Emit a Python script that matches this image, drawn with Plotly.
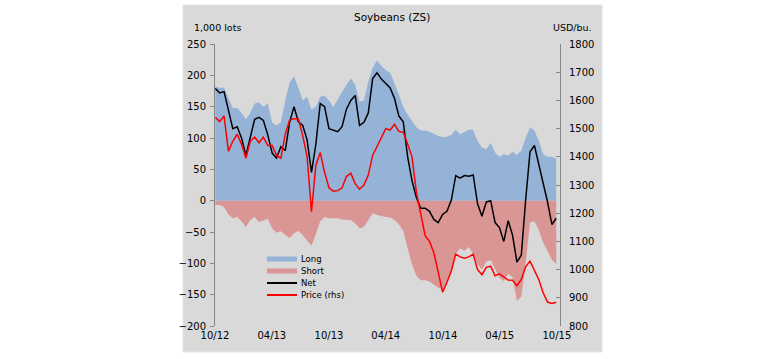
import pandas as pd
import plotly.graph_objects as go

# ---------------- data (bi-weekly, 1,000 lots / USD cents per bu.) ----------------
start_date = "2012-10-02"
n_points = 79
step_days = 14

long_pos = [182, 180, 180, 165, 148, 148, 140, 130, 140, 155, 157, 150, 155, 125, 120, 125,
            160, 188, 198, 180, 160, 166, 145, 150, 166, 168, 160, 150, 162, 172, 185, 195,
            185, 158, 160, 190, 212, 224, 215, 208, 204, 187, 168, 150, 137, 126, 117, 112,
            112, 110, 106, 103, 101, 102, 105, 113, 106, 110, 113, 113, 95, 85, 82, 92,
            77, 70, 74, 72, 78, 73, 80, 100, 117, 112, 96, 74, 70, 70, 67]

short_pos = [-7, -7, -10, -22, -28, -26, -33, -42, -31, -26, -34, -31, -29, -44, -51, -49,
             -55, -60, -52, -48, -55, -64, -72, -53, -33, -26, -28, -28, -28, -30, -31, -31,
             -36, -44, -42, -30, -20, -23, -25, -26, -27, -31, -38, -48, -76, -102, -120, -127,
             -127, -129, -134, -139, -142, -126, -113, -85, -76, -80, -74, -85, -101, -110, -97, -95,
             -110, -123, -128, -117, -122, -160, -153, -100, -35, -33, -47, -67, -80, -94, -101]

net_pos = [179, 172, 174, 145, 115, 118, 100, 72, 100, 130, 133, 128, 105, 76, 68, 86,
           80, 125, 150, 126, 120, 97, 45, 90, 155, 150, 115, 113, 110, 118, 146, 160,
           168, 120, 125, 140, 195, 204, 194, 187, 180, 163, 135, 126, 70, 32, 5, -12,
           -12, -17, -30, -35, -22, -17, 1, 40, 36, 40, 39, 41, -5, -25, -2, 0,
           -35, -43, -65, -32, -55, -98, -87, 1, 78, 88, 58, 30, -2, -38, -28]

price = [1540, 1525, 1545, 1420, 1455, 1480, 1445, 1395, 1455, 1470, 1450, 1470, 1440, 1440, 1405, 1395,
         1480, 1530, 1535, 1535, 1475, 1400, 1205, 1370, 1415, 1345, 1290, 1278, 1280, 1290, 1330, 1342,
         1305, 1285, 1300, 1335, 1405, 1435, 1470, 1500, 1495, 1515, 1490, 1487, 1445, 1400, 1275, 1200,
         1120, 1100, 1060, 990, 920, 955, 995, 1055, 1045, 1040, 1045, 1055, 1000, 982, 1008, 1012,
         978, 985, 975, 963, 962, 943, 965, 1010, 1030, 1000, 965, 918, 885, 880, 884]

x_tick_vals = ["2012-10-01", "2013-04-01", "2013-10-01", "2014-04-01",
               "2014-10-01", "2015-04-01", "2015-10-01"]
x_tick_text = ["10/12", "04/13", "10/13", "04/14", "10/14", "04/15", "10/15"]
x_range = ["2012-10-01", "2015-10-11"]

y_left_range = [-200, 250]
y_right_range = [800, 1800]

dates = pd.date_range(start=start_date, periods=n_points, freq=f"{step_days}D")

# ---------------- styling ----------------
W, H = 783, 359
PL, PR, PT, PB = 215, 560, 44, 326   # plot area in pixels
FONT = "DejaVu Sans"
BLUE = "#95B3D7"
PINK = "#D99694"
GREY_BG = "#D9D9D9"
AXIS = "#868686"


def px_x(px):
    return (px - PL) / (PR - PL)


def px_y(py):
    return (PB - py) / (PB - PT)


fig = go.Figure()

fig.add_trace(go.Scatter(x=dates, y=long_pos, name="Long", mode="lines",
                         line=dict(width=0, color=BLUE), fill="tozeroy",
                         fillcolor=BLUE, showlegend=False))
fig.add_trace(go.Scatter(x=dates, y=short_pos, name="Short", mode="lines",
                         line=dict(width=0, color=PINK), fill="tozeroy",
                         fillcolor=PINK, showlegend=False))
fig.add_trace(go.Scatter(x=dates, y=net_pos, name="Net", mode="lines",
                         line=dict(width=1.5, color="#000000"), showlegend=False))
fig.add_trace(go.Scatter(x=dates, y=price, name="Price (rhs)", mode="lines",
                         line=dict(width=1.5, color="#FF0000"), yaxis="y2",
                         showlegend=False))

tick_font = dict(family=FONT, size=10, color="#000000")
zero_pos = (0 - y_left_range[0]) / (y_left_range[1] - y_left_range[0])

fig.update_layout(
    width=W, height=H,
    margin=dict(l=PL, r=W - PR, t=PT, b=H - PB, pad=0, autoexpand=False),
    paper_bgcolor="white",
    plot_bgcolor="rgba(0,0,0,0)",
    showlegend=False,
    font=dict(family=FONT, size=10, color="#000000"),
    xaxis=dict(type="date", range=x_range, tickvals=x_tick_vals, ticktext=x_tick_text,
               showgrid=False, zeroline=False, showline=False, ticks="",
               tickfont=tick_font, ticklabelstandoff=2, automargin=False),
    xaxis2=dict(type="date", range=x_range, overlaying="x", anchor="free",
                position=zero_pos,
                tickvals=x_tick_vals, showticklabels=False, ticks="inside", ticklen=3,
                tickcolor=AXIS, showgrid=False, zeroline=False, showline=True,
                linecolor=AXIS, linewidth=1, automargin=False),
    yaxis=dict(range=y_left_range, dtick=50, showgrid=False, zeroline=False,
               showline=True, linecolor=AXIS, linewidth=1, ticks="outside",
               ticklen=4, tickcolor=AXIS, tickfont=tick_font, ticklabelstandoff=2,
               automargin=False),
    yaxis2=dict(range=y_right_range, dtick=100, overlaying="y", side="right",
                showgrid=False, zeroline=False, showline=True, linecolor=AXIS,
                linewidth=1, ticks="inside", ticklen=4, tickcolor=AXIS,
                tickfont=tick_font, ticklabelstandoff=6, automargin=False),
)

# grey chart background
fig.add_shape(type="rect", xref="paper", yref="paper", layer="below",
              x0=px_x(183), x1=px_x(602), y0=px_y(352), y1=px_y(5),
              fillcolor=GREY_BG, line=dict(color="#E4E4E4", width=1))

# titles
fig.add_annotation(text="Soybeans (ZS)", xref="paper", yref="paper",
                   x=px_x(392), y=px_y(17), showarrow=False,
                   font=dict(family=FONT, size=10.5, color="#000000"),
                   xanchor="center", yanchor="middle")
fig.add_annotation(text="1,000 lots", xref="paper", yref="paper",
                   x=px_x(192), y=px_y(28), showarrow=False,
                   font=dict(family=FONT, size=9.5, color="#000000"),
                   xanchor="left", yanchor="middle")
fig.add_annotation(text="USD/bu.", xref="paper", yref="paper",
                   x=px_x(551), y=px_y(28), showarrow=False,
                   font=dict(family=FONT, size=9.5, color="#000000"),
                   xanchor="left", yanchor="middle")

# manual legend
legend_items = [("Long", "area", BLUE), ("Short", "area", PINK),
                ("Net", "line", "#000000"), ("Price (rhs)", "line", "#FF0000")]
for i, (label, kind, col) in enumerate(legend_items):
    yc = 259 + 12 * i
    if kind == "area":
        fig.add_shape(type="rect", xref="paper", yref="paper",
                      x0=px_x(267), x1=px_x(297), y0=px_y(yc + 2.5), y1=px_y(yc - 2.5),
                      fillcolor=col, line=dict(width=0))
    else:
        fig.add_shape(type="line", xref="paper", yref="paper",
                      x0=px_x(267), x1=px_x(297), y0=px_y(yc), y1=px_y(yc),
                      line=dict(color=col, width=2))
    fig.add_annotation(text=label, xref="paper", yref="paper",
                       x=px_x(299), y=px_y(yc), showarrow=False,
                       font=dict(family=FONT, size=8.5, color="#000000"),
                       xanchor="left", yanchor="middle")

fig.write_html("out.html", config={"displayModeBar": False},
               post_script="document.body.style.margin='0';document.body.style.overflow='hidden';")
